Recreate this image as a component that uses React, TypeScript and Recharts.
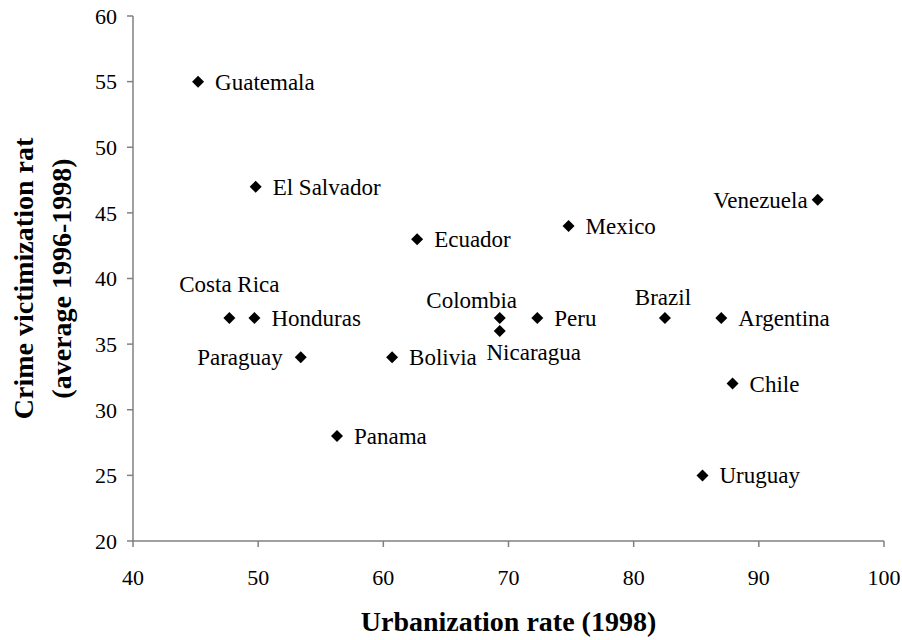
import { ScatterChart, Scatter, XAxis, YAxis, Label } from 'recharts';

// Latin America: urbanization vs. crime victimization
const countries = [
  'Guatemala', 'El Salvador', 'Costa Rica', 'Honduras', 'Paraguay', 'Bolivia',
  'Panama', 'Ecuador', 'Colombia', 'Nicaragua', 'Peru', 'Mexico', 'Brazil',
  'Venezuela', 'Argentina', 'Chile', 'Uruguay',
];
const urbanization = [45.2, 49.8, 47.7, 49.7, 53.4, 60.7, 56.3, 62.7, 69.3, 69.3, 72.3, 74.8, 82.5, 94.7, 87.0, 87.9, 85.5];
const crimeRate = [55, 47, 37, 37, 34, 34, 28, 43, 37, 36, 37, 44, 37, 46, 37, 32, 25];

const xTicks = [40, 50, 60, 70, 80, 90, 100];
const yTicks = [20, 25, 30, 35, 40, 45, 50, 55, 60];

const FONT = 'Liberation Serif, Times New Roman, serif';
const AXIS_GREY = '#808080';

// where each label sits relative to its marker (default: to the right)
const labelPlacement: Record<string, { anchor: 'start' | 'middle' | 'end'; dx: number; dy: number }> = {
  Venezuela: { anchor: 'end', dx: -10, dy: 8 },
  Paraguay: { anchor: 'end', dx: -18, dy: 8 },
  'Costa Rica': { anchor: 'middle', dx: 0, dy: -26 },
  Colombia: { anchor: 'middle', dx: -28, dy: -10 },
  Brazil: { anchor: 'middle', dx: -2, dy: -13 },
  Nicaragua: { anchor: 'middle', dx: 34, dy: 29 },
};
const defaultPlacement = { anchor: 'start' as const, dx: 17, dy: 8 };

const data = countries.map((name, i) => ({
  name,
  x: urbanization[i],
  y: crimeRate[i],
}));

// diamond marker plus its country label
const DiamondWithLabel = (props: any) => {
  const { cx, cy, payload } = props;
  if (cx == null || cy == null) return null;
  const r = 6;
  const p = labelPlacement[payload.name] || defaultPlacement;
  return (
    <g>
      <polygon
        points={`${cx},${cy - r} ${cx + r},${cy} ${cx},${cy + r} ${cx - r},${cy}`}
        fill="#000"
      />
      <text
        x={cx + p.dx}
        y={cy + p.dy}
        textAnchor={p.anchor}
        style={{ fontFamily: FONT, fontSize: 23 }}
        fill="#000"
      >
        {payload.name}
      </text>
    </g>
  );
};

// two-line rotated y axis title
const YTitle = (props: any) => {
  const { viewBox } = props;
  const cy = viewBox.y + viewBox.height / 2;
  const lines = [
    { text: 'Crime victimization rat', x: 33 },
    { text: '(average 1996-1998)', x: 71 },
  ];
  return (
    <g>
      {lines.map(l => (
        <text
          key={l.text}
          x={l.x}
          y={cy}
          transform={`rotate(-90, ${l.x}, ${cy})`}
          textAnchor="middle"
          style={{ fontFamily: FONT, fontSize: 28, fontWeight: 'bold' }}
          fill="#000"
        >
          {l.text}
        </text>
      ))}
    </g>
  );
};

export default function App() {
  return (
    <div
      style={{
        position: 'absolute',
        left: 0,
        top: 0,
        width: 902,
        height: 640,
        background: '#fff',
        fontFamily: FONT,
      }}
    >
      <ScatterChart width={902} height={640} margin={{ top: 16, right: 18, bottom: 0, left: 0 }}>
        <XAxis
          type="number"
          dataKey="x"
          domain={[40, 100]}
          ticks={xTicks}
          height={99}
          axisLine={{ stroke: AXIS_GREY, strokeWidth: 1.5 }}
          tickLine={{ stroke: AXIS_GREY, strokeWidth: 1.5 }}
          tickSize={6}
          tickMargin={22}
          tick={{ fill: '#000', fontSize: 22, style: { fontFamily: FONT } }}
        >
          <Label
            value="Urbanization rate (1998)"
            position="insideBottom"
            offset={9}
            style={{ fontFamily: FONT, fontSize: 28, fontWeight: 'bold', fill: '#000' }}
          />
        </XAxis>
        <YAxis
          type="number"
          dataKey="y"
          domain={[20, 60]}
          ticks={yTicks}
          width={133}
          axisLine={{ stroke: AXIS_GREY, strokeWidth: 1.5 }}
          tickLine={{ stroke: AXIS_GREY, strokeWidth: 1.5 }}
          tickSize={6}
          tickMargin={10}
          tick={{ fill: '#000', fontSize: 22, style: { fontFamily: FONT } }}
        >
          <Label content={<YTitle />} />
        </YAxis>
        <Scatter data={data} shape={<DiamondWithLabel />} isAnimationActive={false} />
      </ScatterChart>
    </div>
  );
}
